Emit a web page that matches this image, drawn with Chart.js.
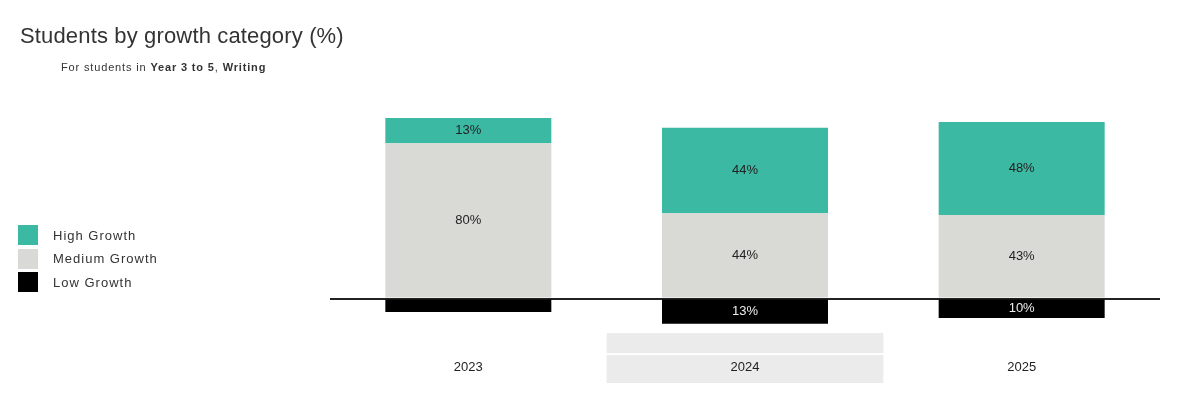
<!DOCTYPE html>
<html>
<head>
<meta charset="utf-8">
<script src="https://cdn.jsdelivr.net/npm/chart.js@4.4.1/dist/chart.umd.min.js"></script>
<style>
  html, body { margin: 0; padding: 0; background: #fff; }
  body { width: 1200px; height: 397px; position: relative; overflow: hidden;
         font-family: "Liberation Sans", Arial, sans-serif; color: #333; }
  #chart { position: absolute; left: 0; top: 0; }
  #title { position: absolute; left: 20px; top: 25px; font-size: 22px; line-height: 22px; letter-spacing: 0.15px; color: #333; white-space: nowrap; }
  #subtitle { position: absolute; left: 61px; top: 62px; font-size: 11px; line-height: 11px; letter-spacing: 0.85px; color: #333; white-space: nowrap; }
  #legend { position: absolute; left: 18px; top: 225px; }
  .item { height: 20px; margin-bottom: 3.5px; display: flex; align-items: center; }
  .swatch { width: 20px; height: 20px; margin-right: 15px; }
  .item span { font-size: 13px; letter-spacing: 1px; color: #333; }
</style>
</head>
<body>
<canvas id="chart" width="1200" height="397"></canvas>
<div id="title">Students by growth category (%)</div>
<div id="subtitle">For students in <b>Year 3 to 5</b>, <b>Writing</b></div>
<div id="legend"></div>
<script>
const categories = ['2023', '2024', '2025'];
const highGrowth = [13, 44, 48];
const mediumGrowth = [80, 44, 43];
const lowGrowth = [7, 13, 10];
const seriesNames = ['High Growth', 'Medium Growth', 'Low Growth'];
const seriesColors = ['#3cb9a3', '#d9d9d5', '#000000'];
const highlighted = '2024';

// legend built from the series names/colours
const legendEl = document.getElementById('legend');
seriesNames.forEach((name, i) => {
    const item = document.createElement('div');
    item.className = 'item';
    item.innerHTML = '<div class="swatch" style="background:' + seriesColors[i] + '"></div><span>' + name + '</span>';
    legendEl.appendChild(item);
});

// grey band behind the highlighted year label
const bandPlugin = {
    id: 'band',
    beforeDraw(chart) {
        const ctx = chart.ctx;
        const x = chart.scales.x;
        const w = x.width / categories.length;
        const cx = x.getPixelForValue(categories.indexOf(highlighted));
        const b = chart.chartArea.bottom;
        ctx.save();
        ctx.fillStyle = '#ebebeb';
        ctx.fillRect(cx - w / 2, b + 5.5, w, 20);
        ctx.fillRect(cx - w / 2, b + 27.5, w, 28);
        ctx.restore();
    }
};

// percentage labels in the middle of each segment
const valueLabels = {
    id: 'valueLabels',
    afterDatasetsDraw(chart) {
        const ctx = chart.ctx;
        ctx.save();
        ctx.font = '13px "Liberation Sans", Arial, sans-serif';
        ctx.textAlign = 'center';
        ctx.textBaseline = 'middle';
        chart.data.datasets.forEach((ds, di) => {
            chart.getDatasetMeta(di).data.forEach((bar, i) => {
                const v = Math.abs(ds.data[i]);
                if (v < 8) return;
                const p = bar.getProps(['x', 'y', 'base'], true);
                ctx.fillStyle = ds.labelColor;
                ctx.fillText(v + '%', p.x, (p.y + p.base) / 2);
            });
        });
        ctx.restore();
    }
};

new Chart(document.getElementById('chart'), {
    type: 'bar',
    data: {
        labels: categories,
        datasets: [
            { label: seriesNames[1], data: mediumGrowth, backgroundColor: seriesColors[1], labelColor: '#222' },
            { label: seriesNames[0], data: highGrowth, backgroundColor: seriesColors[0], labelColor: '#222' },
            { label: seriesNames[2], data: lowGrowth.map(v => -v), backgroundColor: seriesColors[2], labelColor: '#eee' }
        ]
    },
    options: {
        responsive: false,
        animation: false,
        layout: { padding: { left: 330, right: 40, top: 104.5, bottom: 0 } },
        datasets: { bar: { barPercentage: 0.6, categoryPercentage: 1 } },
        plugins: { legend: { display: false }, tooltip: { enabled: false } },
        scales: {
            x: {
                stacked: true,
                afterFit: s => { s.height = 69.4; },
                grid: { display: false, drawTicks: false },
                border: { display: false },
                ticks: { padding: 32, color: '#222', font: { size: 13, family: '"Liberation Sans", Arial, sans-serif' } }
            },
            y: {
                stacked: true,
                min: -15,
                max: 100,
                afterFit: s => { s.width = 0; },
                ticks: { display: false, stepSize: 5 },
                border: { display: false },
                grid: {
                    drawTicks: false,
                    lineWidth: 2,
                    color: c => c.tick && c.tick.value === 0 ? '#222' : 'rgba(0,0,0,0)'
                }
            }
        }
    },
    plugins: [bandPlugin, valueLabels]
});
</script>
</body>
</html>
